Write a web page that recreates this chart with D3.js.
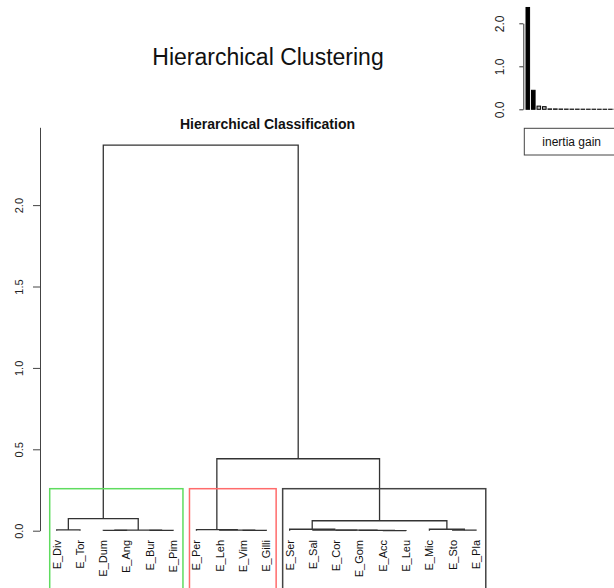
<!DOCTYPE html>
<html>
<head>
<meta charset="utf-8">
<script src="https://cdn.jsdelivr.net/npm/d3@7"></script>
<style>
  html, body { margin: 0; padding: 0; background: #fff; }
  svg { display: block; font-family: "Liberation Sans", Arial, sans-serif; }
</style>
</head>
<body>
<svg id="chart" width="614" height="588"></svg>
<script>
// ---- data ----
const leafLabels = ["E_Div","E_Tor","E_Dum","E_Ang","E_Bur","E_Pim","E_Per","E_Leh","E_Vim","E_Gilli",
                    "E_Ser","E_Sal","E_Cor","E_Gom","E_Acc","E_Leu","E_Mic","E_Sto","E_Pla"];
// hclust-style merge table: negative = leaf (1-based, in leaf order), positive = earlier merge (1-based)
const mergeLeft   = [-15, -3, -5, -9, -14, -8, -13, -18, 2, -12, -1, -7, -11, -17, 13, 11, 12, 16];
const mergeRight  = [-16, -4, -6, -10, 1, 4, 5, -19, 3, 7, -2, 6, 10, 8, 14, 9, 15, 17];
const mergeHeight = [0.001, 0.002, 0.002, 0.002, 0.002, 0.003, 0.003, 0.003, 0.004, 0.004,
                     0.005, 0.006, 0.009, 0.009, 0.061, 0.074, 0.442, 2.368];
const clusterStart = [1, 7, 11];
const clusterEnd   = [6, 10, 19];
const yTicks = [0, 0.5, 1.0, 1.5, 2.0];
const inertiaGain = [2.368, 0.442, 0.074, 0.061, 0.009, 0.009, 0.006, 0.005, 0.004, 0.004,
                     0.003, 0.003, 0.003, 0.002, 0.002, 0.002, 0.002, 0.001];
const inertiaTicks = [0, 1, 2];
const mainTitle = "Hierarchical Clustering";
const subTitle = "Hierarchical Classification";
const legendText = "inertia gain";

// ---- styles ----
const clusterColors = ["#5fdc5f", "#ff6b6b", "#444444"];
const lineColor = "#333333";

const svg = d3.select("#chart");
svg.append("rect").attr("width", 614).attr("height", 588).attr("fill", "#fff");

// titles
svg.append("text").attr("x", 268).attr("y", 64.5).attr("text-anchor", "middle")
  .attr("font-size", 23).attr("fill", "#111").text(mainTitle);
svg.append("text").attr("x", 267.5).attr("y", 128.5).attr("text-anchor", "middle")
  .attr("font-size", 14).attr("font-weight", "bold").attr("fill", "#111").text(subTitle);

// scales
const x = d3.scalePoint().domain(d3.range(1, leafLabels.length + 1)).range([56.7, 476]);
const step = x.step();
const y = d3.scaleLinear().domain([0, 2.478]).range([530.7, 127.3]);

// y axis
const yAxis = svg.append("g").attr("transform", "translate(40,0)")
  .call(d3.axisLeft(y).tickValues(yTicks).tickSize(7).tickSizeOuter(0).tickFormat(d3.format(".1f")));
yAxis.select(".domain").attr("stroke", "#444");
yAxis.selectAll(".tick line").attr("stroke", "#444");
yAxis.selectAll(".tick text")
  .attr("x", null).attr("dy", null)
  .attr("text-anchor", "middle")
  .attr("font-size", 11).attr("fill", "#222")
  .attr("transform", "translate(-20.5,0) rotate(-90) translate(0,3.8)");

// dendrogram
const nodeX = [], nodeH = [];
const g = svg.append("g").attr("fill", "none").attr("stroke", lineColor).attr("stroke-width", 1.3);
function childPos(c) {
  if (c < 0) return [x(-c), 0];
  return [nodeX[c - 1], nodeH[c - 1]];
}
mergeLeft.forEach((l, i) => {
  const [xl, hl] = childPos(l);
  const [xr, hr] = childPos(mergeRight[i]);
  const h = mergeHeight[i];
  nodeX[i] = (xl + xr) / 2;
  nodeH[i] = h;
  g.append("path").attr("d", `M${xl},${y(hl)}V${y(h)}H${xr}V${y(hr)}`);
});
// leaf labels
svg.append("g").selectAll("text").data(leafLabels).join("text")
  .attr("transform", (d, i) => `translate(${x(i + 1)},540) rotate(-90)`)
  .attr("dy", "0.35em").attr("text-anchor", "end")
  .attr("font-size", 11).attr("fill", "#111").text(d => d);

// cluster rectangles (rect.hclust style)
const k = clusterStart.length;
const sortedH = mergeHeight.slice().sort((a, b) => b - a);
const rectTop = (sortedH[k - 2] + sortedH[k - 1]) / 2;
svg.append("g").selectAll("rect").data(clusterStart).join("rect")
  .attr("x", (d) => x(d) - 0.3 * step)
  .attr("width", (d, i) => x(clusterEnd[i]) - x(d) + 0.72 * step)
  .attr("y", y(rectTop))
  .attr("height", 700 - y(rectTop))
  .attr("fill", "none")
  .attr("stroke", (d, i) => clusterColors[i])
  .attr("stroke-width", 1.5);

// inertia gain inset
const yi = d3.scaleLinear().domain([0, 2]).range([109.3, 23.3]);
const xb = d3.scaleBand().domain(d3.range(inertiaGain.length))
  .range([526, 526 + inertiaGain.length * 5.4]).paddingInner(0.35).paddingOuter(0);
const ia = svg.append("g").attr("transform", "translate(523.3,0)")
  .call(d3.axisLeft(yi).tickValues(inertiaTicks).tickSize(4).tickSizeOuter(0).tickFormat(d3.format(".1f")));
ia.select(".domain").attr("stroke", "#333");
ia.selectAll(".tick line").attr("stroke", "#333");
ia.selectAll(".tick text")
  .attr("x", null).attr("dy", null)
  .attr("text-anchor", "middle")
  .attr("font-size", 12).attr("fill", "#222")
  .attr("transform", "translate(-23.3,0) rotate(-90) translate(0,4.2)");
svg.append("g").selectAll("rect").data(inertiaGain).join("rect")
  .attr("x", (d, i) => xb(i))
  .attr("width", xb.bandwidth())
  .attr("y", d => yi(d))
  .attr("height", d => yi(0) - yi(d))
  .attr("fill", (d, i) => i < k - 1 ? "#000" : "#bbb")
  .attr("stroke", "#000").attr("stroke-width", 1);

// legend
svg.append("rect").attr("x", 524.3).attr("y", 128.3).attr("width", 95).attr("height", 26.7)
  .attr("fill", "#fff").attr("stroke", "#444").attr("stroke-width", 1);
svg.append("text").attr("x", 571.7).attr("y", 146.2).attr("text-anchor", "middle")
  .attr("font-size", 12).attr("fill", "#111").text(legendText);
</script>
</body>
</html>
